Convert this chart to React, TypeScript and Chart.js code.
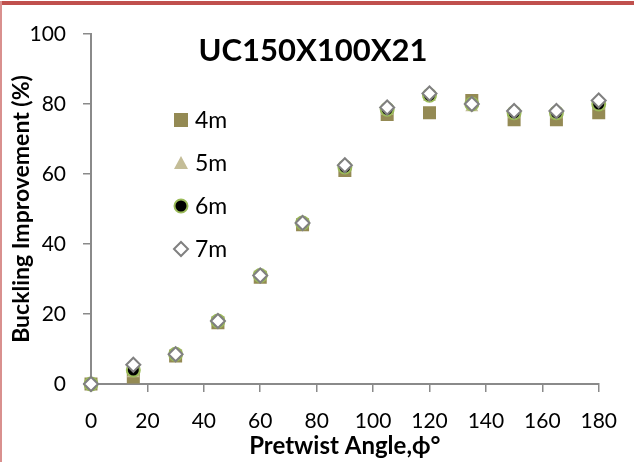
import React, { useEffect, useRef } from "react";
import { Chart, registerables } from "chart.js";

Chart.register(...registerables);

const angles = [0, 15, 30, 45, 60, 75, 90, 105, 120, 135, 150, 165, 180];
const series4m = [0, 2, 8, 17.5, 30.5, 45.5, 61, 77, 77.5, 81, 75.5, 75.5, 77.5];
const series5m = [0, 3, 8.5, 18, 31, 46, 62, 78, 82, 79, 77, 77, 79.5];
const series6m = [0, 4, 8.5, 18, 31, 46, 62, 78.5, 82.5, 80, 77.5, 77.5, 80];
const series7m = [0, 5.5, 8.5, 18, 31, 46, 62.5, 79, 83, 80, 78, 78, 81];
const seriesLabels = ["4m", "5m", "6m", "7m"];
const chartTitle = "UC150X100X21";
const xTitle = "Pretwist Angle,\u03d5\u00b0";
const yTitle = "Buckling Improvement (%)";

const FONT = "Lato, 'Open Sans', sans-serif";
const AXIS = "#8a8a8a";

const toPoints = (ys: number[]) => angles.map((x, i) => ({ x, y: ys[i] }));

const styles = [
  { pointStyle: "rect", radius: 9.2, bg: "#948A54", border: "#948A54", bw: 0 },
  { pointStyle: "triangle", radius: 7.5, bg: "#C4BD97", border: "#C4BD97", bw: 0 },
  { pointStyle: "circle", radius: 6.5, bg: "#000000", border: "#9BBB59", bw: 2 },
  { pointStyle: "rectRot", radius: 7, bg: "#ffffff", border: "#808080", bw: 2 },
];

const overlayPlugin = {
  id: "overlay",
  afterDraw(chart: any) {
    const ctx = chart.ctx;
    ctx.save();
    // title
    ctx.fillStyle = "#000";
    ctx.font = `bold 31px ${FONT}`;
    ctx.textAlign = "center";
    ctx.textBaseline = "middle";
    ctx.fillText(chartTitle, 313, 51);
    // legend
    const xs = 181;
    const rows = [120, 163, 206, 249];
    ctx.font = `23px ${FONT}`;
    ctx.textAlign = "left";
    seriesLabels.forEach((lab, i) => {
      const y = rows[i];
      ctx.beginPath();
      if (i === 0) {
        ctx.fillStyle = "#948A54";
        ctx.fillRect(xs - 7, y - 7, 14, 14);
      } else if (i === 1) {
        ctx.fillStyle = "#C4BD97";
        ctx.moveTo(xs, y - 7);
        ctx.lineTo(xs + 7, y + 6);
        ctx.lineTo(xs - 7, y + 6);
        ctx.closePath();
        ctx.fill();
      } else if (i === 2) {
        ctx.fillStyle = "#000";
        ctx.strokeStyle = "#9BBB59";
        ctx.lineWidth = 2;
        ctx.arc(xs, y, 6.5, 0, Math.PI * 2);
        ctx.fill();
        ctx.stroke();
      } else {
        ctx.fillStyle = "#fff";
        ctx.strokeStyle = "#808080";
        ctx.lineWidth = 2;
        ctx.moveTo(xs - 7, y);
        ctx.lineTo(xs, y - 7);
        ctx.lineTo(xs + 7, y);
        ctx.lineTo(xs, y + 7);
        ctx.closePath();
        ctx.fill();
        ctx.stroke();
      }
      ctx.fillStyle = "#000";
      ctx.fillText(lab, 195, y + 1);
    });
    ctx.restore();
  },
};

export default function App() {
  const ref = useRef<HTMLCanvasElement | null>(null);
  useEffect(() => {
    if (!ref.current) return;
    const all = [series4m, series5m, series6m, series7m];
    const chart = new Chart(ref.current, {
      type: "scatter",
      data: {
        datasets: all.map((s, i) => ({
          label: seriesLabels[i],
          data: toPoints(s),
          pointStyle: styles[i].pointStyle as any,
          pointRadius: styles[i].radius,
          pointHoverRadius: styles[i].radius,
          pointBackgroundColor: styles[i].bg,
          pointBorderColor: styles[i].border,
          pointBorderWidth: styles[i].bw,
          showLine: false,
          clip: false as any,
          order: 3 - i,
        })),
      },
      options: {
        responsive: false,
        animation: false,
        layout: { padding: { left: 0, top: 34, right: 35, bottom: 0 } },
        plugins: {
          legend: { display: false },
          tooltip: { enabled: false },
          title: { display: false },
        },
        scales: {
          x: {
            type: "linear",
            min: 0,
            max: 180,
            afterFit: (s: any) => {
              s.height = 78;
            },
            ticks: {
              stepSize: 20,
              color: "#000",
              padding: 17,
              font: { family: FONT, size: 21 },
            },
            grid: {
              display: true,
              drawOnChartArea: false,
              drawTicks: true,
              tickLength: 8,
              color: AXIS,
              lineWidth: 1.5,
            },
            border: { display: true, color: AXIS, width: 2 },
            title: {
              display: true,
              text: xTitle,
              color: "#000",
              font: { family: FONT, size: 24, weight: "bold" },
              padding: { top: 0, bottom: 1 },
            },
          },
          y: {
            type: "linear",
            min: 0,
            max: 100,
            afterFit: (s: any) => {
              s.width = 91;
            },
            ticks: {
              stepSize: 20,
              color: "#000",
              padding: 17,
              font: { family: FONT, size: 21 },
            },
            grid: {
              display: true,
              drawOnChartArea: false,
              drawTicks: true,
              tickLength: 8,
              color: AXIS,
              lineWidth: 1.5,
            },
            border: { display: true, color: AXIS, width: 2 },
            title: {
              display: true,
              text: yTitle,
              color: "#000",
              font: { family: FONT, size: 23, weight: "bold" },
              padding: { top: 8, bottom: 0 },
            },
          },
        },
      },
      plugins: [overlayPlugin],
    });
    return () => chart.destroy();
  }, []);

  return (
    <div style={{ position: "fixed", left: 0, top: 0, width: 634, height: 462, background: "#fff", overflow: "hidden" }}>
      <canvas ref={ref} width={634} height={462} style={{ position: "absolute", left: 0, top: 0 }} />
      <div style={{ position: "absolute", left: 0, top: 1, width: 634, height: 4, background: "#C0504D" }} />
      <div style={{ position: "absolute", left: 0, top: 1, width: 2, height: 461, background: "#D9908E" }} />
    </div>
  );
}
